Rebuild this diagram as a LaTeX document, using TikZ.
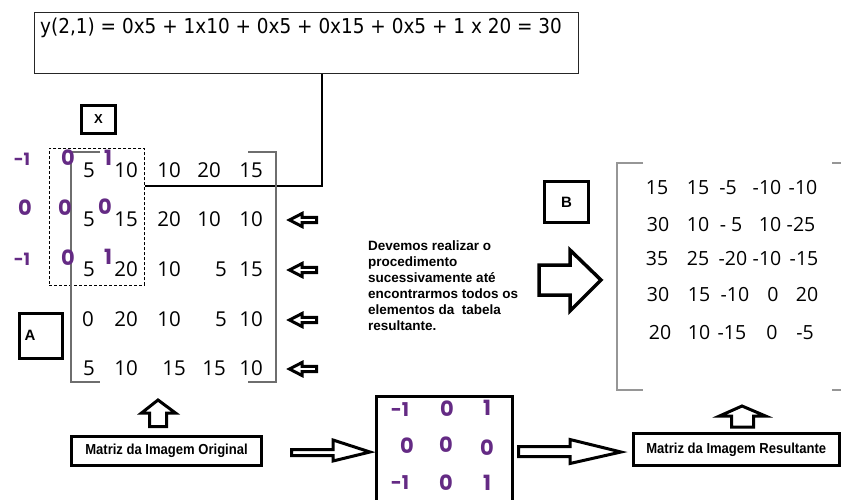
\documentclass[tikz,border=0pt]{standalone}
\usepackage{fontspec}
\setmainfont{DejaVu Sans}
\newfontfamily\formfont[FakeStretch=0.9]{DejaVu Sans}
\newfontfamily\numfont{Open Sans}
\newfontfamily\kernfont{Poppins}
\newfontfamily\arialfont{Liberation Sans}
\newfontfamily\narrowfont[FakeStretch=0.9]{Liberation Sans}
\definecolor{kpurple}{RGB}{100,42,132}
\definecolor{agray}{RGB}{110,110,110}
\definecolor{bgray}{RGB}{150,150,150}
\tikzset{
  thickbox/.style={draw=black, line width=3pt, inner sep=0pt, fill=white},
  hollow/.style={draw=black, line width=2.8pt, fill=white, line join=miter},
  numA/.style={inner sep=0pt, font=\numfont\fontsize{20.5}{20}\selectfont},
  numB/.style={inner sep=0pt, font=\numfont\fontsize{19.5}{20}\selectfont},
  kern/.style={inner sep=0pt, text=kpurple, font=\kernfont\bfseries\fontsize{21}{21}\selectfont},
  lbl/.style={font=\arialfont\bfseries\fontsize{15}{15}\selectfont},
  boxlbl/.style={font=\narrowfont\bfseries\fontsize{14.5}{15}\selectfont},
}
\begin{document}
\begin{tikzpicture}[x=1pt,y=-1pt]
\useasboundingbox (0,0) rectangle (841,500);
\fill[white] (0,0) rectangle (841,500);

% formula box and text
\node[draw=black!85, line width=1pt, minimum width=544pt, minimum height=61pt, inner sep=0pt, anchor=north west] (formula) at (34,12) {};
\node[anchor=base west, inner sep=0pt, font=\formfont\fontsize{20.5}{21}\selectfont] (ftext) at (40,34) {y(2,1) = 0x5 + 1x10 + 0x5 + 0x15 + 0x5 + 1 x 20 = 30};

% dashed window
\node[draw, dashed, dash pattern=on 3pt off 2pt, line width=0.8pt, minimum width=95pt, minimum height=137pt, inner sep=0pt, anchor=north west] (window) at (49,148) {};
\coordinate (corner) at (322,186);
\draw[line width=2pt] (formula.south -| corner) -- (corner) -- (window.east |- corner);

% X box
\node[thickbox, lbl, minimum width=34pt, minimum height=28pt, font=\arialfont\bfseries\fontsize{13}{13}\selectfont] (xbox) at (98.5,119.5) {X};

% bracket of matrix A
\draw[agray, line width=1.5pt] (100,152) -- (71,152) -- (71,382) -- (100,382);
\draw[agray, line width=1.5pt] (248,152) -- (276,152) -- (276,382) -- (248,382);

% matrix A entries
\foreach \t/\x/\y [count=\i] in {
  5/89/170, 10/126/170, 10/169/170, 20/209/170, 15/251/170,
  5/89/219, 15/126/219, 20/169/219, 10/209/219, 10/251/219,
  5/89/269, 20/126/269, 10/169/269, 5/221/269, 15/251/269,
  0/88/319, 20/126/319, 10/169/319, 5/221/319, 10/251/319,
  5/89/368, 10/126/368, 15/174/368, 15/214/368, 10/251/368}
  \node[numA] (a\i) at (\x,\y) {\t};

% kernel overlay
\foreach \t/\x/\y/\s [count=\i] in {
  -1/22/159/17, 0/68/158/21, 1/108/158/21,
  0/25/208/21, 0/65/208/21, 0/105/207/21,
  -1/22/259/17, 0/68/258/21, 1/108/257/21}
  \node[kern, font=\kernfont\bfseries\fontsize{\s}{\s}\selectfont] (k\i) at (\x,\y) {\t};

% A box
\node[thickbox, minimum width=43pt, minimum height=45pt, anchor=north west] (abox) at (17.5,311.5) {};
\node[lbl, inner sep=0pt] (alabel) at (30,335) {A};

% left arrows
\foreach \y [count=\i] in {220,270,320,369}{
  \draw[hollow, line width=3pt] (289.5,\y) -- (302,\y-6.5) -- (302,\y-2.6) -- (316.5,\y-2.6) -- (316.5,\y+2.6) -- (302,\y+2.6) -- (302,\y+6.5) -- cycle;
}

% description text
\node[anchor=north west, inner sep=0pt, align=left, font=\arialfont\bfseries\fontsize{13.5}{16}\selectfont] (desc) at (368,241) {Devemos realizar o\\procedimento\\sucessivamente até\\encontrarmos todos os\\elementos da\ \ tabela\\resultante.};

% big arrow
\draw[hollow, line width=3.5pt] (539,265) -- (570,265) -- (570,250) -- (601,280) -- (570,311) -- (570,295) -- (539,295) -- cycle;

% B box
\node[thickbox, lbl, minimum width=44pt, minimum height=41pt] (bbox) at (566.5,202) {B};

% bracket of matrix B
\draw[bgray, line width=1.5pt] (643,163) -- (617,163) -- (617,390) -- (643,390);
\draw[bgray, line width=1.5pt] (832,163) -- (841,163);
\draw[bgray, line width=1.5pt] (832,390) -- (841,390);

% matrix B entries
\foreach \t/\x/\y [count=\i] in {
  15/657/188, 15/698/188, -5/728/188, -10/767/188, -10/803/188,
  30/658/225, 10/698/225, - 5/731/225, 10/770/225, -25/801/225,
  35/657/259, 25/698/259, -20/733/259, -10/767/259, -15/804/259,
  30/658/295, 15/699/295, -10/735/295, 0/773/295, 20/807/295,
  20/660/333, 10/699/333, -15/732/333, 0/772/333, -5/805/333}
  \node[numB] (b\i) at (\x,\y) {\t};

% bottom row
\node[thickbox, boxlbl, minimum width=190pt, minimum height=29pt] (orig) at (166.5,451) {Matriz da Imagem Original};
\draw[hollow, line width=3pt] (149.5,426.5) -- (149.5,413) -- (141.5,413) -- (158,400) -- (175.5,413) -- (166.5,413) -- (166.5,426.5) -- cycle;

\node[thickbox, minimum width=136pt, minimum height=115pt, anchor=north west] (kernel) at (374.5,394.5) {};
\foreach \t/\x/\y/\s [count=\i] in {
  -1/400/410/19, 0/447/409/21, 1/487/408/21,
  0/407/446/21, 0/446/445/21, 0/487/448/21,
  -1/400/483/19, 0/446/483/21, 1/487/483/21}
  \node[kern, font=\kernfont\bfseries\fontsize{\s}{\s}\selectfont] (m\i) at (\x,\y) {\t};

\draw[hollow, line width=3pt] (291.5,449.5) -- (333,449.5) -- (333,440) -- (370,452) -- (333,461) -- (333,455.5) -- (291.5,455.5) -- cycle;
\draw[hollow, line width=3pt] (518.5,446.5) -- (570,446.5) -- (570,439.5) -- (621,452) -- (570,463.5) -- (570,456.5) -- (518.5,456.5) -- cycle;

\node[thickbox, boxlbl, minimum width=205.5pt, minimum height=32pt] (result) at (736.25,449.5) {Matriz da Imagem Resultante};
\draw[hollow, line width=3pt] (731.5,427) -- (731.5,416) -- (719.5,416) -- (742,406) -- (765.5,416) -- (753.5,416) -- (753.5,427) -- cycle;
\end{tikzpicture}
\end{document}
